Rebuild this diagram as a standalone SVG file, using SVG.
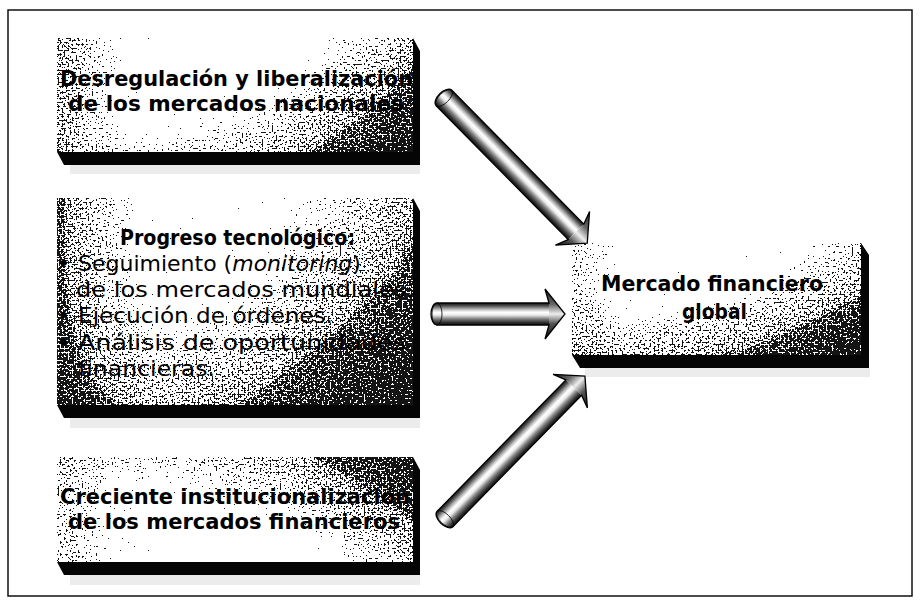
<svg xmlns="http://www.w3.org/2000/svg" width="920" height="610" viewBox="0 0 920 610">
<defs>
<style>
.t{font-family:"DejaVu Sans","Liberation Sans",sans-serif;font-size:22px;fill:#000}
.b{font-weight:bold;font-size:21px}
.side{fill:#050505}
.sh{fill:#ececec}
.ol{fill:none;stroke:#000;stroke-width:1.3;stroke-linejoin:miter}
</style>
<filter id="dither" x="0" y="0" width="1" height="1" color-interpolation-filters="sRGB">
<feTurbulence type="fractalNoise" baseFrequency="0.5" numOctaves="3" seed="11" result="n"/>
<feColorMatrix in="n" type="matrix" values="1 0 0 0 0 1 0 0 0 0 1 0 0 0 0 0 0 0 0 1" result="g"/>
<feComposite in="SourceGraphic" in2="g" operator="arithmetic" k1="0" k2="1" k3="1.5" k4="-0.75" result="s"/>
<feComponentTransfer in="s">
<feFuncR type="discrete" tableValues="0.08 1"/>
<feFuncG type="discrete" tableValues="0.08 1"/>
<feFuncB type="discrete" tableValues="0.08 1"/>
<feFuncA type="discrete" tableValues="1 1"/>
</feComponentTransfer>
</filter>
<linearGradient id="L1" x1="0" y1="0" x2="1" y2="0">
<stop offset="0" stop-color="#000" stop-opacity="0.5"/><stop offset="0.1" stop-color="#000" stop-opacity="0.25"/><stop offset="0.25" stop-color="#000" stop-opacity="0"/><stop offset="0.6" stop-color="#000" stop-opacity="0"/><stop offset="0.85" stop-color="#000" stop-opacity="0.22"/><stop offset="1" stop-color="#000" stop-opacity="0.38"/>
</linearGradient>
<linearGradient id="L2" x1="0" y1="0" x2="1" y2="0">
<stop offset="0" stop-color="#000" stop-opacity="0.55"/><stop offset="0.12" stop-color="#000" stop-opacity="0.3"/><stop offset="0.3" stop-color="#000" stop-opacity="0"/><stop offset="0.55" stop-color="#000" stop-opacity="0.05"/><stop offset="1" stop-color="#000" stop-opacity="0.4"/>
</linearGradient>
<linearGradient id="L3" x1="0" y1="0" x2="1" y2="0">
<stop offset="0" stop-color="#000" stop-opacity="0.35"/><stop offset="0.15" stop-color="#000" stop-opacity="0.12"/><stop offset="0.3" stop-color="#000" stop-opacity="0"/><stop offset="0.65" stop-color="#000" stop-opacity="0"/><stop offset="1" stop-color="#000" stop-opacity="0.3"/>
</linearGradient>
<linearGradient id="L4" x1="0" y1="0" x2="1" y2="0">
<stop offset="0" stop-color="#000" stop-opacity="0.3"/><stop offset="0.2" stop-color="#000" stop-opacity="0.05"/><stop offset="0.6" stop-color="#000" stop-opacity="0"/><stop offset="1" stop-color="#000" stop-opacity="0.25"/>
</linearGradient>
<linearGradient id="BR" x1="0" y1="0" x2="1" y2="1">
<stop offset="0.45" stop-color="#000" stop-opacity="0"/><stop offset="1" stop-color="#000" stop-opacity="0.6"/>
</linearGradient>
<linearGradient id="BR2" x1="0" y1="0" x2="1" y2="1">
<stop offset="0.42" stop-color="#000" stop-opacity="0"/><stop offset="1" stop-color="#000" stop-opacity="0.55"/>
</linearGradient>
<linearGradient id="TR" x1="0" y1="1" x2="1" y2="0">
<stop offset="0.42" stop-color="#000" stop-opacity="0"/><stop offset="1" stop-color="#000" stop-opacity="0.62"/>
</linearGradient>
<linearGradient id="BL" x1="0" y1="0" x2="0" y2="1">
<stop offset="0.4" stop-color="#000" stop-opacity="0"/><stop offset="1" stop-color="#000" stop-opacity="0.25"/>
</linearGradient>
<linearGradient id="cyl" x1="0" y1="0" x2="0" y2="1">
<stop offset="0" stop-color="#111"/><stop offset="0.12" stop-color="#4a4a4a"/><stop offset="0.3" stop-color="#c0c0c0"/><stop offset="0.42" stop-color="#fff"/><stop offset="0.55" stop-color="#ececec"/><stop offset="0.72" stop-color="#808080"/><stop offset="0.9" stop-color="#2a2a2a"/><stop offset="1" stop-color="#111"/>
</linearGradient>
<linearGradient id="hd" gradientUnits="userSpaceOnUse" x1="0" y1="-24" x2="0" y2="24">
<stop offset="0" stop-color="#222"/><stop offset="0.3" stop-color="#666"/><stop offset="0.5" stop-color="#eee"/><stop offset="0.7" stop-color="#555"/><stop offset="1" stop-color="#111"/>
</linearGradient>
</defs>
<rect width="920" height="610" fill="#fff"/>
<rect x="8" y="10" width="904" height="586" fill="none" stroke="#111" stroke-width="1.5"/>

<g id="box-desregulacion">
<rect class="sh" x="70" y="165" width="350" height="9"/>
<polygon class="side" points="57,152 413,152 413,38 420,51 420,165 64,165"/>
<g filter="url(#dither)">
<rect x="57" y="38" width="356" height="114" fill="#fff"/>
<rect x="57" y="38" width="356" height="114" fill="url(#L1)"/>
<rect x="57" y="38" width="356" height="114" fill="url(#BR)"/>
</g>
<text class="t b" x="60" y="86" textLength="353" lengthAdjust="spacingAndGlyphs">Desregulación y liberalización</text>
<text class="t b" x="68" y="111" textLength="336" lengthAdjust="spacingAndGlyphs">de los mercados nacionales</text>
</g>

<g id="box-progreso">
<rect class="sh" x="70" y="418" width="350" height="10"/>
<polygon class="side" points="57,405 413,405 413,198 420,211 420,418 64,418"/>
<g filter="url(#dither)">
<rect x="57" y="198" width="356" height="207" fill="#fff"/>
<rect x="57" y="198" width="356" height="207" fill="url(#L2)"/>
<rect x="57" y="198" width="356" height="207" fill="url(#BR2)"/>
<rect x="57" y="198" width="356" height="207" fill="url(#BL)"/>
</g>
<text class="t b" x="120" y="245" textLength="235" lengthAdjust="spacingAndGlyphs">Progreso tecnológico:</text>
<text class="t" x="57" y="271">•</text>
<text class="t" x="78" y="271">Seguimiento (<tspan font-style="italic">monitoring</tspan>)</text>
<text class="t" x="76" y="297" textLength="338" lengthAdjust="spacingAndGlyphs">de los mercados mundiales.</text>
<text class="t" x="57" y="323">•</text>
<text class="t" x="78" y="323" textLength="255" lengthAdjust="spacingAndGlyphs">Ejecución de órdenes.</text>
<text class="t" x="57" y="350">•</text>
<text class="t" x="78" y="350" textLength="328" lengthAdjust="spacingAndGlyphs">Análisis de oportunidades</text>
<text class="t" x="78" y="376" textLength="137" lengthAdjust="spacingAndGlyphs">financieras.</text>
</g>

<g id="box-creciente">
<rect class="sh" x="70" y="575" width="350" height="10"/>
<polygon class="side" points="57,562 413,562 413,457 420,470 420,575 64,575"/>
<g filter="url(#dither)">
<rect x="57" y="457" width="356" height="105" fill="#fff"/>
<rect x="57" y="457" width="356" height="105" fill="url(#L3)"/>
<rect x="57" y="457" width="356" height="105" fill="url(#TR)"/>
</g>
<text class="t b" x="60" y="504" textLength="350" lengthAdjust="spacingAndGlyphs">Creciente institucionalización</text>
<text class="t b" x="68" y="529" textLength="332" lengthAdjust="spacingAndGlyphs">de los mercados financieros</text>
</g>

<g id="box-mercado-global">
<rect class="sh" x="585" y="368" width="285" height="9"/>
<polygon class="side" points="572,355 861,355 861,243 869,255 869,368 580,368"/>
<g filter="url(#dither)">
<rect x="572" y="243" width="289" height="112" fill="#fff"/>
<rect x="572" y="243" width="289" height="112" fill="url(#L4)"/>
<rect x="572" y="243" width="289" height="112" fill="url(#BR)"/>
<rect x="572" y="243" width="289" height="112" fill="url(#BL)"/>
</g>
<text class="t b" x="601" y="291" textLength="222" lengthAdjust="spacingAndGlyphs">Mercado financiero</text>
<text class="t b" x="682" y="319" textLength="65" lengthAdjust="spacingAndGlyphs">global</text>
</g>

<g id="connectors">
<g transform="translate(444,98) rotate(45.4)">
<path d="M0,-11 L188,-11 L188,11 L0,11 A6 11 0 0 1 0,-11 Z" fill="url(#cyl)"/>
<polygon points="188,-11 183,-24 204,0 183,24 188,11" fill="url(#hd)"/>
<path class="ol" d="M0,-11 L188,-11 L183,-24 L204,0 L183,24 L188,11 L0,11 A6 11 0 0 1 0,-11 Z"/>
<ellipse cx="0" cy="0" rx="5" ry="11" fill="none" stroke="#000" stroke-width="0.8"/>
</g>
<g transform="translate(437,314)">
<path d="M0,-11 L112,-11 L112,11 L0,11 A6 11 0 0 1 0,-11 Z" fill="url(#cyl)"/>
<polygon points="112,-11 108,-25 128,0 108,25 112,11" fill="url(#hd)"/>
<path class="ol" d="M0,-11 L112,-11 L108,-25 L128,0 L108,25 L112,11 L0,11 A6 11 0 0 1 0,-11 Z"/>
<ellipse cx="0" cy="0" rx="5" ry="11" fill="none" stroke="#000" stroke-width="0.8"/>
</g>
<g transform="translate(445,519) rotate(-45.6)">
<path d="M0,-11 L184,-11 L184,11 L0,11 A6 11 0 0 1 0,-11 Z" fill="url(#cyl)"/>
<polygon points="184,-11 179,-24 200,0 179,24 184,11" fill="url(#hd)"/>
<path class="ol" d="M0,-11 L184,-11 L179,-24 L200,0 L179,24 L184,11 L0,11 A6 11 0 0 1 0,-11 Z"/>
<ellipse cx="0" cy="0" rx="5" ry="11" fill="none" stroke="#000" stroke-width="0.8"/>
</g>
</g>
</svg>
